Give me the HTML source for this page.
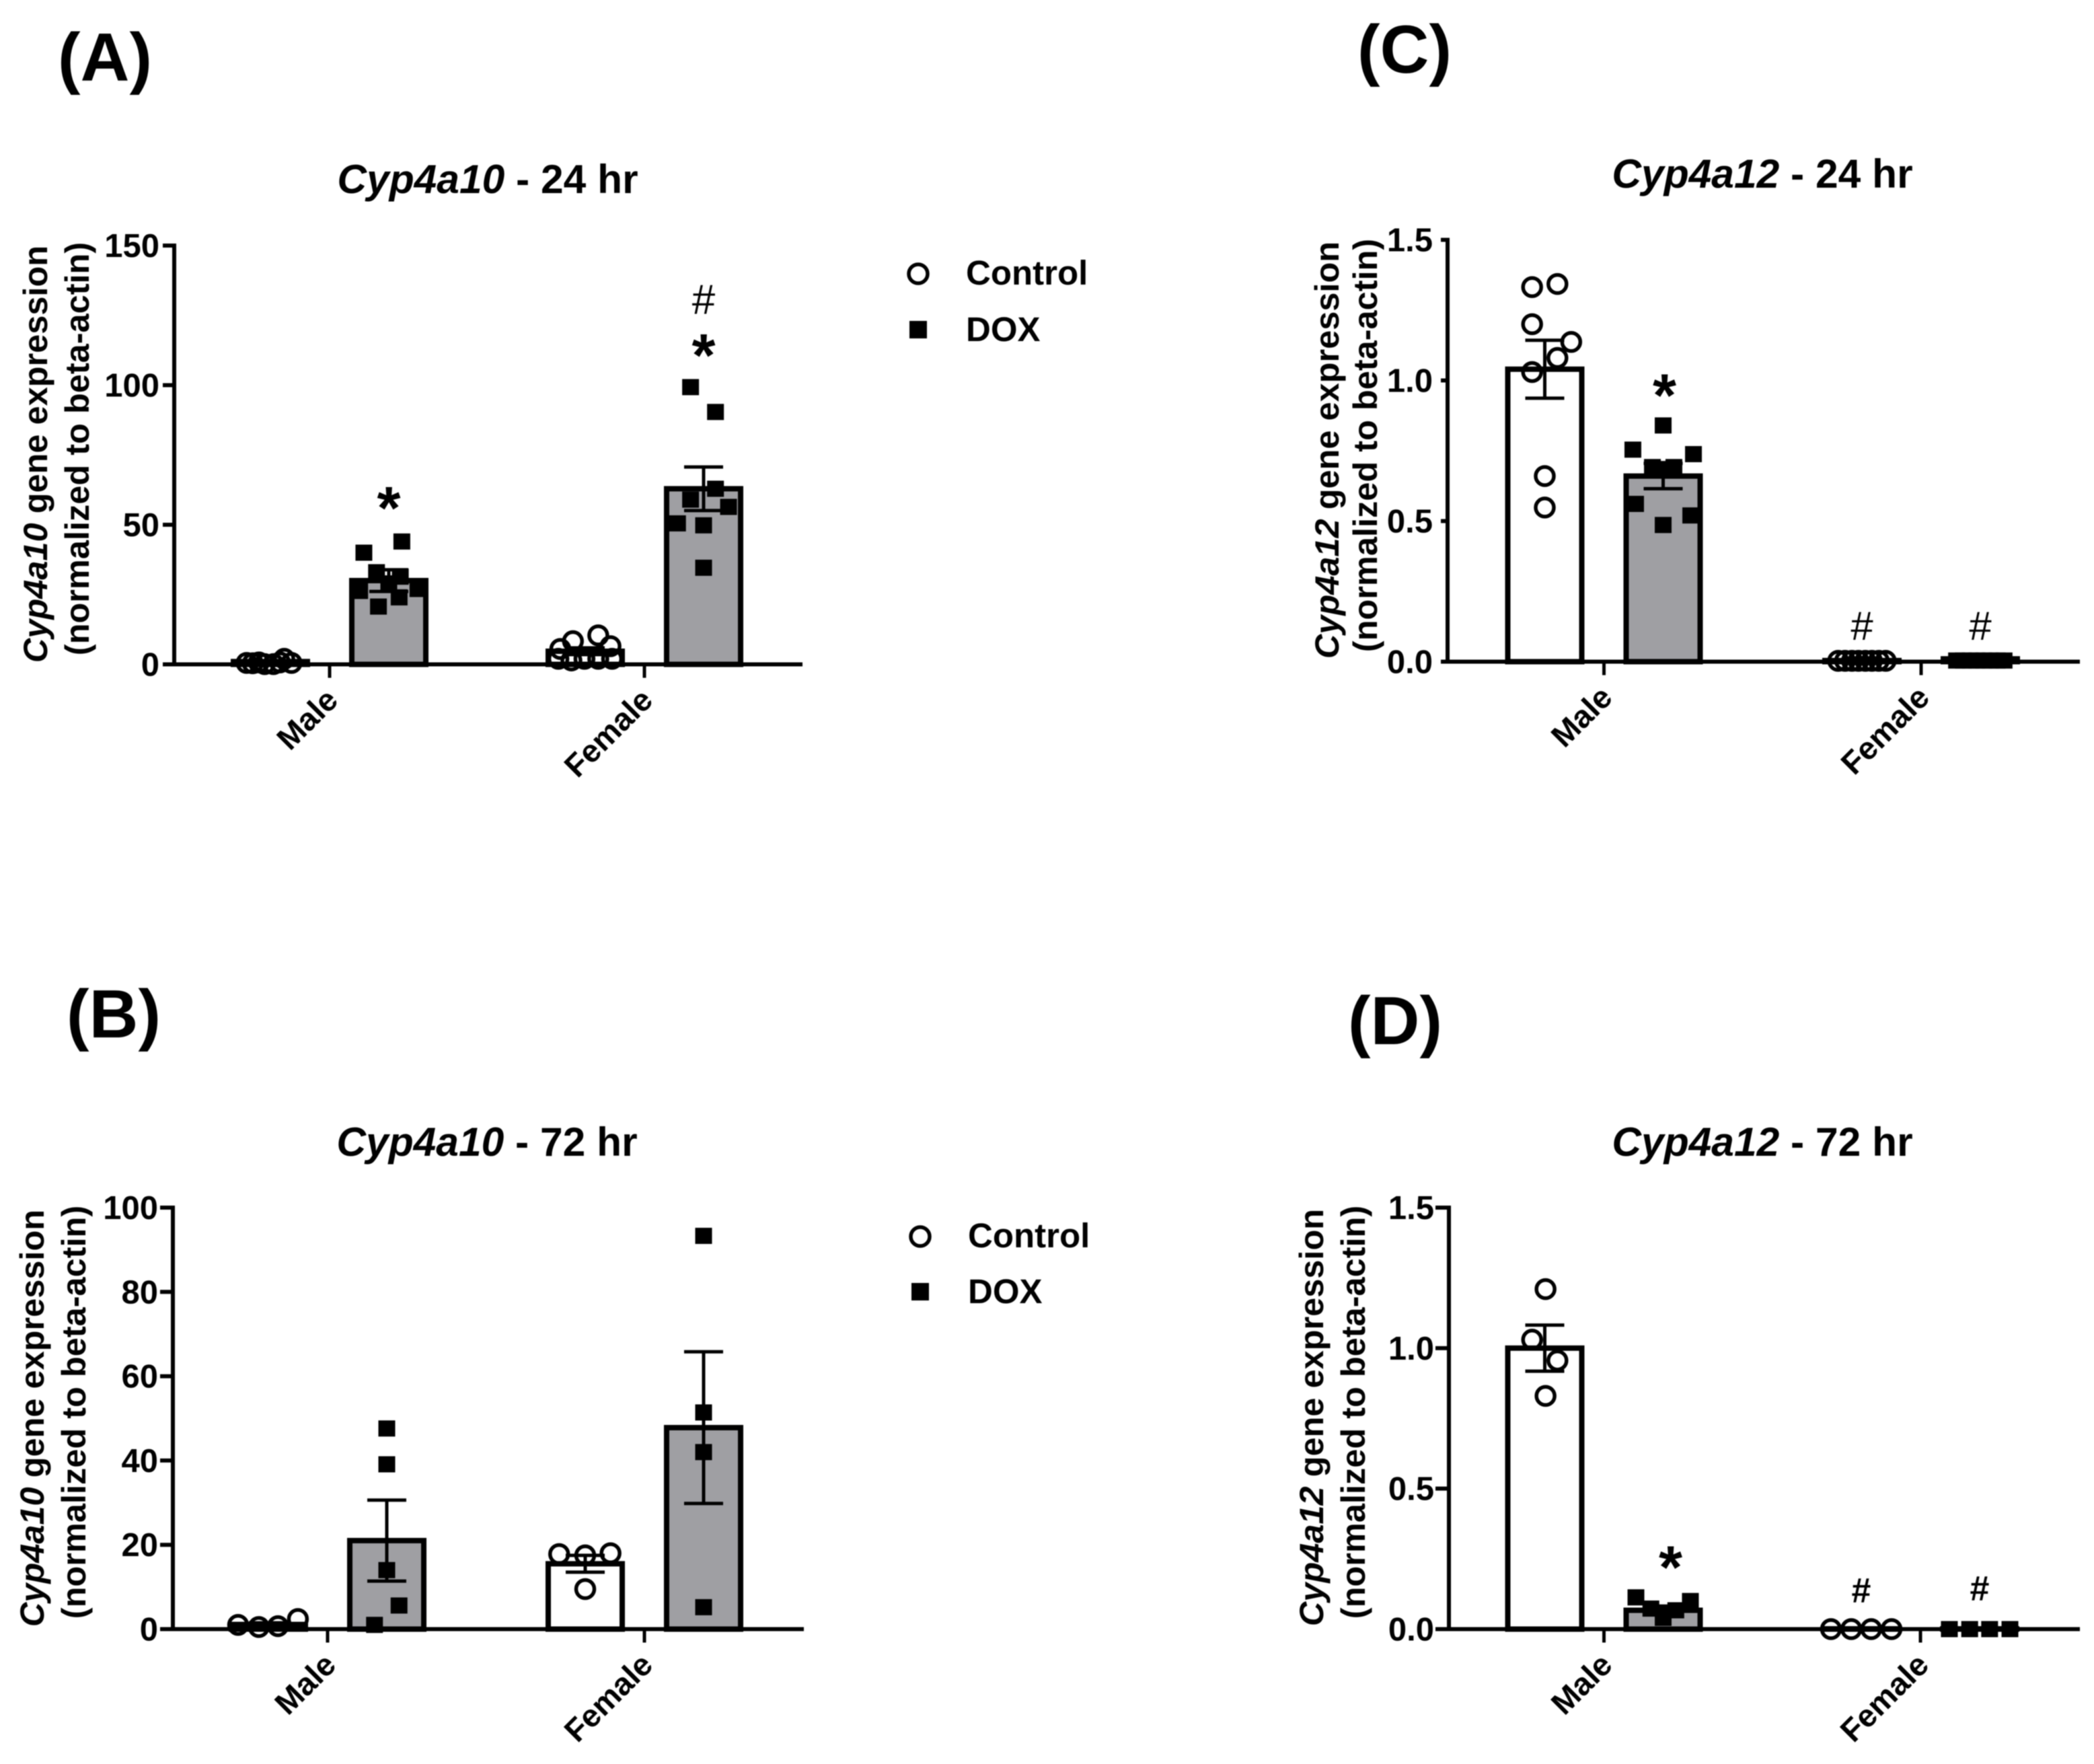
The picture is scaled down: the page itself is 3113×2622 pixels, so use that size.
<!DOCTYPE html>
<html lang="en">
<head>
<meta charset="utf-8">
<title>Cyp4a10 and Cyp4a12 gene expression</title>
<style>
html,body{margin:0;padding:0;background:#fff;}
svg{display:block;filter:blur(0.9px);}
text{font-family:"Liberation Sans",Arial,sans-serif;font-weight:700;fill:#000;}
</style>
</head>
<body>
<svg id="figure" xmlns="http://www.w3.org/2000/svg" width="3113" height="2622" viewBox="0 0 3113 2622">
  <rect x="0" y="0" width="3113" height="2622" fill="#fff"/>

  <text x="156" y="120" font-size="101" text-anchor="middle">(A)</text>
  <text x="169" y="1542" font-size="101" text-anchor="middle">(B)</text>
  <text x="2088" y="108" font-size="101" text-anchor="middle">(C)</text>
  <text x="2074" y="1552" font-size="101" text-anchor="middle">(D)</text>

  <text x="725" y="287" font-size="60.5" text-anchor="middle"><tspan font-style="italic">Cyp4a10</tspan> - 24 hr</text>
  <text x="724" y="1718" font-size="60.5" text-anchor="middle"><tspan font-style="italic">Cyp4a10</tspan> - 72 hr</text>
  <text x="2620" y="279" font-size="60.5" text-anchor="middle"><tspan font-style="italic">Cyp4a12</tspan> - 24 hr</text>
  <text x="2620" y="1718" font-size="60.5" text-anchor="middle"><tspan font-style="italic">Cyp4a12</tspan> - 72 hr</text>

  <text font-size="50.5" text-anchor="middle" transform="translate(70 675) rotate(-90)"><tspan font-style="italic">Cyp4a10</tspan> gene expression</text>
  <text font-size="50.5" text-anchor="middle" transform="translate(132 667) rotate(-90)">(normalized to beta-actin)</text>
  <text font-size="50.5" text-anchor="middle" transform="translate(65 2108) rotate(-90)"><tspan font-style="italic">Cyp4a10</tspan> gene expression</text>
  <text font-size="50.5" text-anchor="middle" transform="translate(127 2099) rotate(-90)">(normalized to beta-actin)</text>
  <text font-size="50.5" text-anchor="middle" transform="translate(1990 669) rotate(-90)"><tspan font-style="italic">Cyp4a12</tspan> gene expression</text>
  <text font-size="50.5" text-anchor="middle" transform="translate(2047 662) rotate(-90)">(normalized to beta-actin)</text>
  <text font-size="50.5" text-anchor="middle" transform="translate(1967 2107) rotate(-90)"><tspan font-style="italic">Cyp4a12</tspan> gene expression</text>
  <text font-size="50.5" text-anchor="middle" transform="translate(2029 2099) rotate(-90)">(normalized to beta-actin)</text>

  <g>
    <circle cx="1365" cy="407" r="14" fill="none" stroke="#000" stroke-width="5.5"/>
    <text x="1436" y="423" font-size="51">Control</text>
    <rect x="1352" y="477" width="26" height="26" fill="#000"/>
    <text x="1436" y="507" font-size="51">DOX</text>
  </g>
  <g>
    <circle cx="1368" cy="1838" r="14" fill="none" stroke="#000" stroke-width="5.5"/>
    <text x="1439" y="1854" font-size="51">Control</text>
    <rect x="1355" y="1907" width="26" height="26" fill="#000"/>
    <text x="1439" y="1937" font-size="51">DOX</text>
  </g>
</svg>
<script>
// Bar order in every panel: Male Control, Male DOX, Female Control, Female DOX
const categories = ['Male', 'Female'];
const seriesNames = ['Control', 'DOX'];

// Panel A: Cyp4a10, 24 hr
const aTicks = [0, 50, 100, 150];
const aTickLabels = ['0', '50', '100', '150'];
const aMeans = [1, 30, 4.7, 62.9];
const aErrors = [0.3, 3.9, 1.2, 7.8];
const aPoints = [
  [0.5, 0.7, 0.1, 0.1, 0.7, 2, 0.5, 0.4],
  [44, 40, 33, 31.4, 29, 27, 26.3, 24, 20.7],
  [10.4, 8.3, 6.5, 5.5, 2, 2, 2, 1.4, 2],
  [99.3, 90.4, 62.9, 59, 56.4, 50.5, 49.8, 34.6]
];
const aSpread = [
  [-0.62, -0.3, -0.15, 0.08, 0.25, 0.36, 0.55, -0.46],
  [0.34, -0.65, -0.32, 0.3, 0, 0.76, -0.76, 0.27, -0.27],
  [0.34, -0.32, 0.66, -0.65, -0.7, -0.02, 0.34, -0.36, 0.7],
  [-0.34, 0.31, 0.31, -0.34, 0.65, -0.68, 0, 0]
];
const aSigBars = [1, 3, 3];
const aSigMarks = ['*', '*', '#'];
const aSigValues = [58.8, 113.4, 130];

// Panel B: Cyp4a10, 72 hr
const bTicks = [0, 20, 40, 60, 80, 100];
const bTickLabels = ['0', '20', '40', '60', '80', '100'];
const bMeans = [1.1, 21, 15.5, 47.8];
const bErrors = [0.4, 9.6, 2, 18];
const bPoints = [
  [1, 0.5, 0.7, 2.4],
  [47.6, 39.1, 14, 5.6, 1],
  [17.8, 17.5, 18, 9.5],
  [93.3, 51.4, 42, 5.2]
];
const bSpread = [
  [-0.79, -0.25, 0.25, 0.77],
  [0, 0, 0, 0.32, -0.32],
  [-0.68, 0, 0.66, 0],
  [0, 0, 0, 0]
];
const bSigBars = [];
const bSigMarks = [];
const bSigValues = [];

// Panel C: Cyp4a12, 24 hr
const cTicks = [0, 0.5, 1, 1.5];
const cTickLabels = ['0.0', '0.5', '1.0', '1.5'];
const cMeans = [1.04, 0.66, 0.004, 0.01];
const cErrors = [0.103, 0.045, 0.002, 0.003];
const cPoints = [
  [1.332, 1.343, 1.2, 1.137, 1.08, 1.03, 0.66, 0.548],
  [0.84, 0.754, 0.738, 0.692, 0.692, 0.685, 0.561, 0.52, 0.486],
  [0.003, 0.003, 0.003, 0.003, 0.003, 0.003, 0.003, 0.003],
  [0.004, 0.004, 0.004, 0.004, 0.004, 0.004, 0.004, 0.004]
];
const cSpread = [
  [-0.33, 0.33, -0.33, 0.69, 0.33, -0.33, 0, 0],
  [0, -0.79, 0.79, -0.28, 0.28, 0, -0.72, 0.72, 0],
  [-0.62, -0.44, -0.26, -0.09, 0.09, 0.26, 0.44, 0.62],
  [-0.62, -0.44, -0.26, -0.09, 0.09, 0.26, 0.44, 0.62]
];
const cSigBars = [1, 2, 3];
const cSigMarks = ['*', '#', '#'];
const cSigValues = [0.974, 0.121, 0.121];

// Panel D: Cyp4a12, 72 hr
const dTicks = [0, 0.5, 1, 1.5];
const dTickLabels = ['0.0', '0.5', '1.0', '1.5'];
const dMeans = [1.0, 0.067, 0.001, 0.001];
const dErrors = [0.082, 0.015, 0, 0];
const dPoints = [
  [1.21, 1.03, 0.956, 0.83],
  [0.113, 0.1, 0.073, 0.067, 0.04],
  [0, 0, 0, 0],
  [0, 0, 0, 0]
];
const dSpread = [
  [0.02, -0.33, 0.33, 0.02],
  [-0.71, 0.71, -0.32, 0.33, 0],
  [-0.79, -0.26, 0.26, 0.79],
  [-0.79, -0.26, 0.26, 0.79]
];
const dSigBars = [1, 2, 3];
const dSigMarks = ['*', '#', '#'];
const dSigValues = [0.247, 0.133, 0.14];

const SVGNS = 'http://www.w3.org/2000/svg';
const figure = document.getElementById('figure');

function make(parent, tag, props) {
  const el = document.createElementNS(SVGNS, tag);
  for (const key in props) el.setAttribute(key, props[key]);
  parent.appendChild(el);
  return el;
}

function drawPanel(p) {
  const yScale = v => p.y0 - (v - p.ticks[0]) / (p.ticks[p.ticks.length - 1] - p.ticks[0]) * (p.y0 - p.yTop);
  const groupX = i => p.groupXs[i];
  const barX = i => groupX(Math.floor(i / 2)) + (i % 2 === 0 ? -88 : 88);
  const halfBar = 55;

  const root = make(figure, 'g', {});
  
  

  // Bars
  p.means.forEach((m, i) => {
    const top = yScale(m);
    const bar = make(root, 'rect', {
      x: barX(i) - halfBar, y: top,
      width: halfBar * 2, height: Math.max(0, p.y0 - top),
      fill: i % 2 === 0 ? '#ffffff' : '#9f9fa3', stroke: '#000', 'stroke-width': 8
    });
    
    
  });

  // Error bars
  p.means.forEach((m, i) => {
    if (p.errors[i] <= 0) return;
    const hi = yScale(m + p.errors[i]);
    const lo = yScale(m - p.errors[i]);
    const cx = barX(i);
    const err = make(root, 'path', {
      d: 'M' + (cx - 29) + ' ' + hi + 'H' + (cx + 29) + 'M' + cx + ' ' + hi + 'V' + lo + 'M' + (cx - 29) + ' ' + lo + 'H' + (cx + 29),
      fill: 'none', stroke: '#000', 'stroke-width': 5
    });
    
    
  });

  // Axes
  const yAxis = make(root, 'line', { x1: p.axisX, x2: p.axisX, y1: p.yTop - 3, y2: p.y0 + 3, stroke: '#000', 'stroke-width': 6 });
  
  
  const xAxis = make(root, 'line', { x1: p.axisX - p.tickLen, x2: p.xEnd, y1: p.y0, y2: p.y0, stroke: '#000', 'stroke-width': 6 });
  
  

  p.ticks.forEach((t, i) => {
    const y = yScale(t);
    const tick = make(root, 'line', { x1: p.axisX - p.tickLen, x2: p.axisX, y1: y, y2: y, stroke: '#000', 'stroke-width': 6 });
    
    
    const label = make(root, 'text', { x: p.axisX - 22, y: y + 17, 'font-size': 49, 'text-anchor': 'end' });
    label.textContent = p.tickLabels[i];
    
    
  });

  categories.forEach((c, i) => {
    const x = groupX(i);
    const tick = make(root, 'line', { x1: x, x2: x, y1: p.y0, y2: p.y0 + 20, stroke: '#000', 'stroke-width': 5 });
    
    
    const label = make(root, 'text', {
      'font-size': 47, 'text-anchor': 'end',
      transform: 'translate(' + (x + 15) + ' ' + (p.y0 + 56) + ') rotate(-45)'
    });
    label.textContent = c;
    
    
  });

  // Data points
  p.points.forEach((vals, i) => {
    const series = make(root, 'g', {});
    
    
    vals.forEach((v, j) => {
      const cx = barX(i) + p.spread[i][j] * 57;
      const cy = yScale(v);
      let mark;
      if (i % 2 === 0) {
        mark = make(series, 'circle', { cx: cx, cy: cy, r: 13.5, fill: 'none', stroke: '#000', 'stroke-width': 5.5 });
      } else {
        mark = make(series, 'rect', { x: cx - 12.5, y: cy - 12, width: 25, height: 24, fill: '#000' });
      }
      
      
    });
  });

  // Significance marks
  p.sigBars.forEach((b, i) => {
    const isStar = p.sigMarks[i] === '*';
    const size = isStar ? 90 : p.hashSize;
    const text = make(root, 'text', {
      x: barX(b) + (isStar ? p.starShift : 0),
      y: yScale(p.sigValues[i]) + (isStar ? size * 0.47 : size * 0.3),
      'font-size': size, 'text-anchor': 'middle',
      style: 'font-weight:' + (isStar ? 700 : p.hashWeight)
    });
    text.textContent = p.sigMarks[i];
    
    
  });
}

drawPanel({ id: 'a', ticks: aTicks, tickLabels: aTickLabels, means: aMeans, errors: aErrors, points: aPoints, spread: aSpread,
  sigBars: aSigBars, sigMarks: aSigMarks, sigValues: aSigValues,
  axisX: 259, y0: 987.5, yTop: 365, xEnd: 1193, tickLen: 17, groupXs: [490, 958], hashSize: 62, hashWeight: 400, starShift: 0 });
drawPanel({ id: 'b', ticks: bTicks, tickLabels: bTickLabels, means: bMeans, errors: bErrors, points: bPoints, spread: bSpread,
  sigBars: bSigBars, sigMarks: bSigMarks, sigValues: bSigValues,
  axisX: 257, y0: 2421.5, yTop: 1795, xEnd: 1195, tickLen: 19, groupXs: [487, 958], hashSize: 62, hashWeight: 400, starShift: 0 });
drawPanel({ id: 'c', ticks: cTicks, tickLabels: cTickLabels, means: cMeans, errors: cErrors, points: cPoints, spread: cSpread,
  sigBars: cSigBars, sigMarks: cSigMarks, sigValues: cSigValues,
  axisX: 2152, y0: 983.5, yTop: 356.5, xEnd: 3092, tickLen: 10, groupXs: [2384.5, 2856], hashSize: 60, hashWeight: 400, starShift: 2 });
drawPanel({ id: 'd', ticks: dTicks, tickLabels: dTickLabels, means: dMeans, errors: dErrors, points: dPoints, spread: dSpread,
  sigBars: dSigBars, sigMarks: dSigMarks, sigValues: dSigValues,
  axisX: 2154, y0: 2421.5, yTop: 1795, xEnd: 3092, tickLen: 20, groupXs: [2384.5, 2855], hashSize: 52, hashWeight: 700, starShift: 11 });
</script>
</body>
</html>
